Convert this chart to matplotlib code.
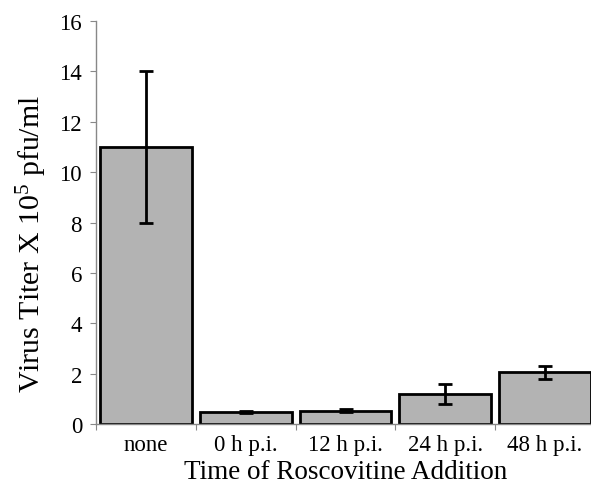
import matplotlib
matplotlib.use("Agg")
import matplotlib.pyplot as plt
import numpy as np
from matplotlib.ticker import FixedLocator

categories = ["none", "0 h p.i.", "12 h p.i.", "24 h p.i.", "48 h p.i."]
values = [11.0, 0.47, 0.53, 1.2, 2.05]
errors = [3.0, 0.05, 0.05, 0.4, 0.25]
yticks = [0, 2, 4, 6, 8, 10, 12, 14, 16]

plt.rcParams['font.family'] = ['Liberation Serif', 'DejaVu Serif']
plt.rcParams['mathtext.fontset'] = 'custom'
plt.rcParams['mathtext.rm'] = 'Liberation Serif'
plt.rcParams['mathtext.it'] = 'Liberation Serif:italic'
plt.rcParams['mathtext.bf'] = 'Liberation Serif:bold'

fig = plt.figure(figsize=(5.91, 4.85), dpi=100)
W, H = 591, 485
left, right, top, bottom = 96, 595, 22, 425
ax = fig.add_axes([left / W, (H - bottom) / H, (right - left) / W, (bottom - top) / H])

x = np.arange(len(categories))
ax.bar(x, values, width=0.92, color="#b3b3b3", edgecolor="black", linewidth=2.0, zorder=2)
ax.errorbar(x, values, yerr=errors, fmt="none", ecolor="black", elinewidth=2.0,
            capsize=5, capthick=2.0, zorder=3)

ax.set_xlim(-0.5, len(categories) - 0.5)
ax.set_ylim(0, 16)
ax.set_yticks(yticks)
ax.set_yticklabels([str(t) for t in yticks], fontsize=16.5)
ax.set_xticks(x)
ax.set_xticklabels(categories, fontsize=16.5)
ax.xaxis.set_minor_locator(FixedLocator(np.arange(-0.5, len(categories), 1.0)))
ax.tick_params(axis="x", which="major", length=0, pad=7)
ax.tick_params(axis="x", which="minor", length=4, color="#888888", width=0.8)
ax.tick_params(axis="y", length=4, color="#888888", width=0.8, pad=6)

for s in ["top", "right"]:
    ax.spines[s].set_visible(False)
for s in ["left", "bottom"]:
    ax.spines[s].set_color("#888888")
    ax.spines[s].set_linewidth(1.0)

ax.set_ylabel("Virus Titer X 10$^{5}$ pfu/ml", fontsize=21.5)
ax.yaxis.set_label_coords((49 - left) / (right - left), 0.45)
ax.set_xlabel("Time of Roscovitine Addition", fontsize=19.5, labelpad=3)

fig.savefig("out.png", dpi=100)
